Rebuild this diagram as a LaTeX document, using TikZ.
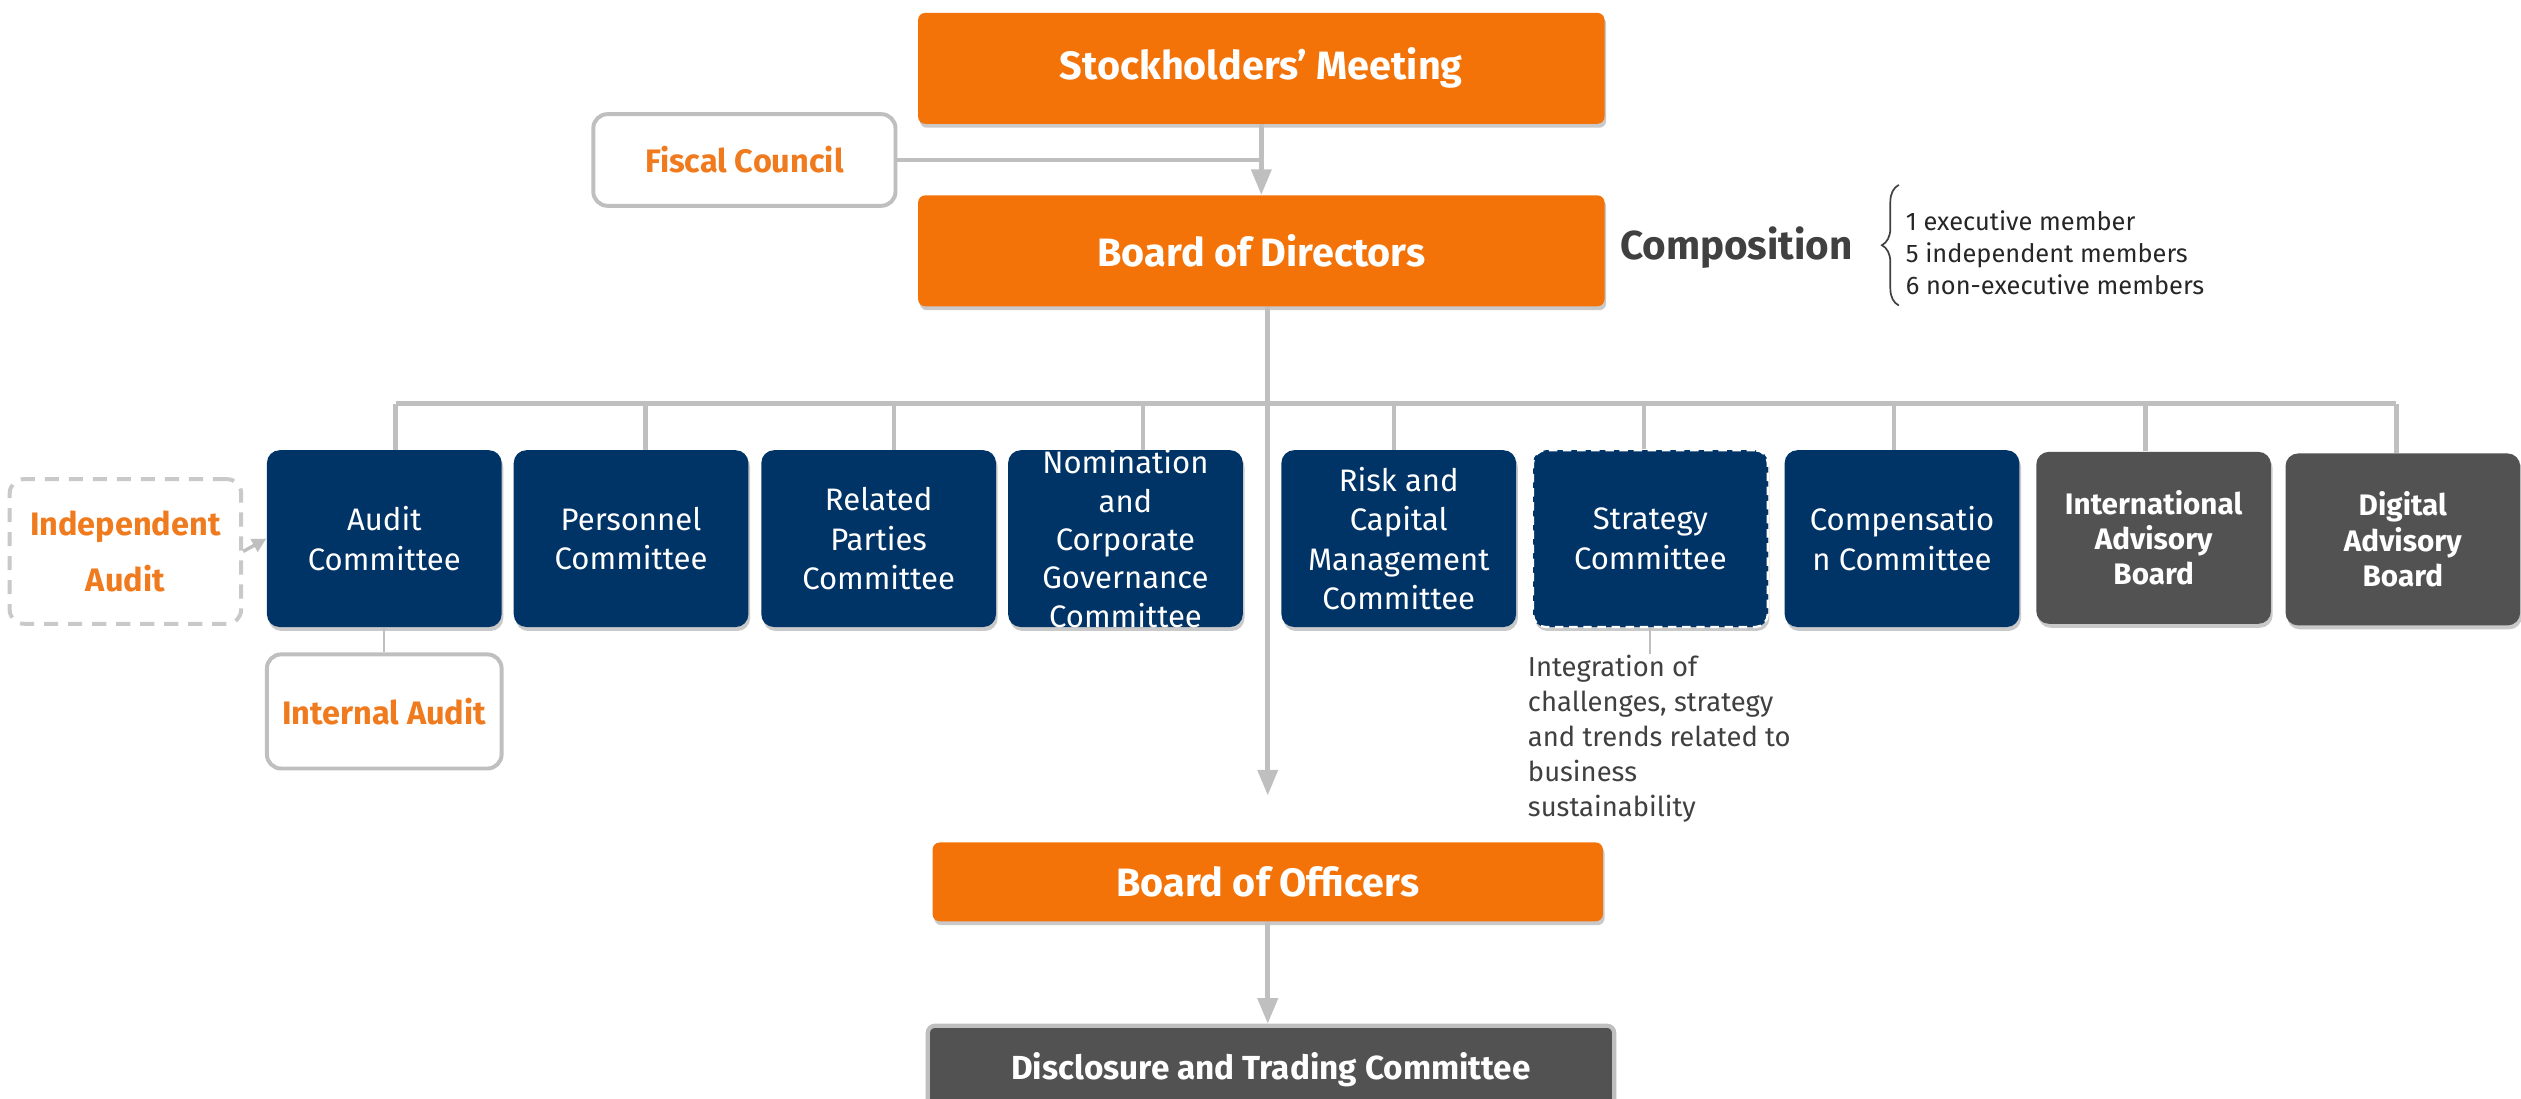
\documentclass[tikz,border=0pt]{standalone}
\usepackage{fontspec}
\setmainfont{Fira Sans}
\usetikzlibrary{arrows.meta,shadows,decorations.pathreplacing}

\definecolor{borange}{HTML}{F37309}
\definecolor{bnavy}{HTML}{003366}
\definecolor{bgray}{HTML}{525252}
\definecolor{bline}{HTML}{BFBFBF}
\definecolor{btext}{HTML}{404040}
\definecolor{borangetext}{HTML}{F07A1E}

\tikzset{
  softshadow/.style={drop shadow={shadow xshift=0.6pt, shadow yshift=-1.4pt, opacity=0.3, fill=black!70}},
  boardbox/.style={fill=borange, rounded corners=2.5pt, text=white, inner sep=0pt,
    font=\fontsize{14}{16}\selectfont\bfseries, minimum width=8.54cm, minimum height=1.38cm, softshadow},
  combox/.style={fill=bnavy, rounded corners=4.5pt, text=white, align=center, inner sep=0pt,
    font=\fontsize{11}{14}\selectfont, minimum width=2.92cm, minimum height=2.2cm, softshadow},
  comtext/.style={text=white, align=center, inner sep=0pt, font=\fontsize{11}{13.6}\selectfont},
  advbox/.style={combox, fill=bgray, font=\fontsize{10.5}{12.5}\selectfont\bfseries, minimum height=2.14cm},
  sidebox/.style={draw=bline, line width=1.4pt, fill=white, rounded corners=5pt, inner sep=0pt,
    text=borangetext, align=center, font=\fontsize{11.5}{20}\selectfont\bfseries},
  conn/.style={draw=bline, line width=1.6pt},
  arrow/.style={conn, -{Triangle[width=7pt,length=9pt]}},
}

\begin{document}
\begin{tikzpicture}[x=0.02cm, y=-0.02cm]
  \clip (0,0) rectangle (1568,683);
  \useasboundingbox (0,0) rectangle (1568,683);

  \node[boardbox] (sm) at (784.5,42.5) {Stockholders’ Meeting};
  \node[boardbox] (bod) at (784.5,156) {Board of Directors};
  \node[sidebox, minimum width=3.76cm, minimum height=1.14cm] (fc) at (463,99.5) {Fiscal Council};

  \node[text=btext, font=\fontsize{14.3}{16}\selectfont\bfseries] (compo) at (1080,154) {Composition};
  \node[anchor=west, align=left, text=black!85, inner sep=0pt, font=\fontsize{9}{11.3}\selectfont] (mem) at (1185,157)
    {1 executive member\\5 independent members\\6 non-executive members};
  \draw[btext, line width=0.6pt, decorate, decoration={brace, amplitude=6pt}] (1181,190) -- (1181,115);

  \coordinate (bus) at (786,251);

  \node[combox] (audit) at (239,335) {Audit\\Committee};
  \node[combox] (pers) at (392.5,335) {Personnel\\Committee};
  \node[combox] (rel) at (546.5,335) {Related\\Parties\\Committee};
  \node[combox] (nom) at (700,335) {};
  \node[comtext] at (nom) {Nomination\\and\\Corporate\\Governance\\Committee};
  \node[combox] (risk) at (870,335) {Risk and\\Capital\\Management\\Committee};
  \node[combox, draw=white, densely dashed, line width=0.8pt] (strat) at (1026.5,335) {Strategy\\Committee};
  \node[combox] (compn) at (1183,335) {Compensatio\\n Committee};
  \node[advbox] (intl) at (1339.5,334.5) {International\\Advisory\\Board};
  \node[advbox] (dig) at (1494.5,335.5) {Digital\\Advisory\\Board};

  \node[sidebox, draw=bline!85, dash pattern=on 5pt off 3.5pt, minimum width=2.88cm, minimum height=1.8cm] (ind) at (78,343) {Independent\\Audit};
  \node[sidebox, minimum width=2.92cm, minimum height=1.42cm] (ia) at (239,442.5) {Internal Audit};

  \node[anchor=north west, align=left, text=btext, inner sep=0pt, font=\fontsize{9.7}{12.4}\selectfont] (note) at (950,407)
    {Integration of\\challenges, strategy\\and trends related to\\business\\sustainability};

  \node[boardbox, minimum width=8.34cm, minimum height=0.98cm] (boo) at (788.5,548.5) {Board of Officers};
  \node[boardbox, fill=bgray, draw=bline, line width=1.5pt, font=\fontsize{11.8}{14}\selectfont\bfseries,
    minimum height=1.08cm] (dtc) at (790.5,665) {Disclosure and Trading Committee};

  \draw[arrow] (sm.south) -- (bod.north);
  \draw[conn] (fc.east) -- (fc.east -| sm.south);
  \draw[arrow] (bod.south -| boo.north) -- ([yshift=0.58cm]boo.north);
  \draw[conn] ([xshift=0.14cm]audit.north |- bus) -- ([xshift=-0.08cm]dig.north |- bus);
  \foreach \c/\dx in {audit/7,pers/9,rel/9.5,nom/11,risk/-3,strat/-4,compn/-5,intl/-5,dig/-4}
    \draw[conn] ([xshift=\dx*0.02cm]\c.north |- bus) -- ([xshift=\dx*0.02cm]\c.north);
  \draw[bline, line width=0.7pt] (audit.south) -- (ia.north);
  \draw[bline, line width=0.7pt] (strat.south) -- (strat.south |- note.north);
  \draw[bline, line width=1.2pt, -{Triangle[width=5pt,length=5pt]}] (ind.east) -- (audit.west);
  \draw[arrow] (boo.south) -- (boo.south |- dtc.north);
\end{tikzpicture}
\end{document}
